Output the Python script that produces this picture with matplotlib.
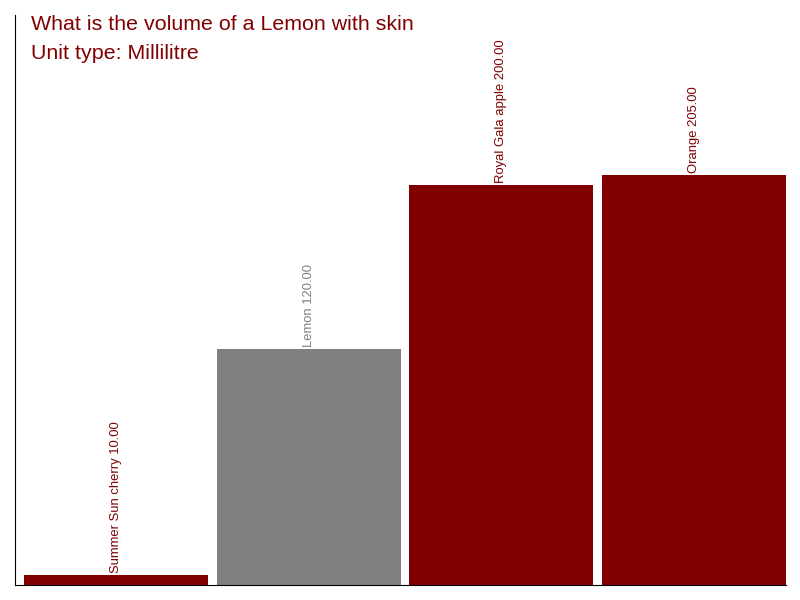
import matplotlib
matplotlib.use('Agg')
import matplotlib.pyplot as plt

plt.rcParams['font.family'] = ['Liberation Sans', 'DejaVu Sans']

# data
names = ['Summer Sun cherry', 'Lemon', 'Royal Gala apple', 'Orange']
volumes = [10.0, 120.0, 200.0, 205.0]
colors = ['#800000', '#808080', '#800000', '#800000']

fig = plt.figure(figsize=(8, 6), dpi=100)
ax = fig.add_axes([15 / 800, 15 / 600, 771 / 800, 570 / 600])

width = 0.955
x = list(range(len(names)))
ax.bar(x, volumes, width=width, color=colors)

for xi, v, n, c in zip(x, volumes, names, colors):
    ax.text(xi, v + 1, f'{n} {v:.2f}', rotation=90, ha='center', va='bottom',
            fontsize=9.4, color=c)

ax.set_xlim(-width / 2 - 0.047, len(names) - 1 + width / 2)
ax.set_ylim(5.1, 283)

ax.spines['top'].set_visible(False)
ax.spines['right'].set_visible(False)
ax.set_xticks([])
ax.set_yticks([])

fig.text(31 / 800, 1 - 29.5 / 600, 'What is the volume of a Lemon with skin',
         fontsize=15.4, color='#800000', va='baseline', ha='left')
fig.text(31 / 800, 1 - 59 / 600, 'Unit type: Millilitre',
         fontsize=15.4, color='#800000', va='baseline', ha='left')

fig.savefig('out.png', dpi=100)
